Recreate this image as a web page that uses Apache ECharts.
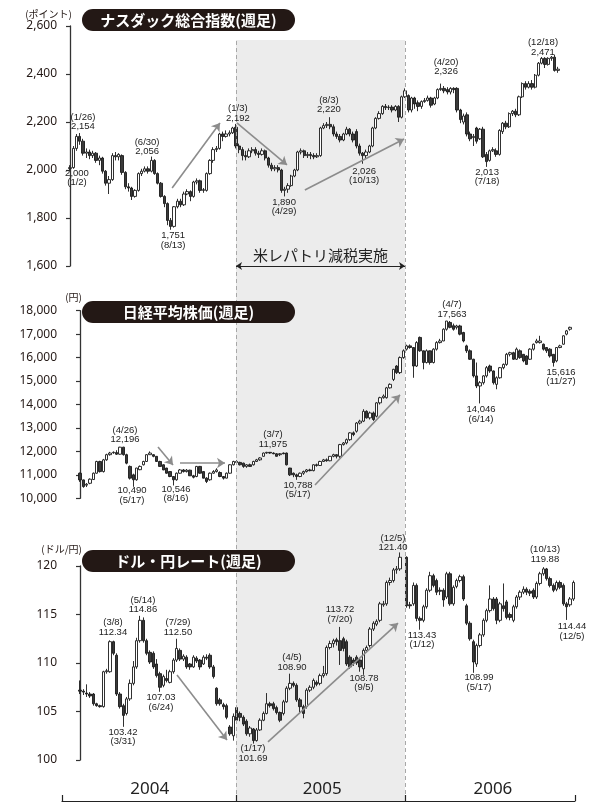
<!DOCTYPE html>
<html><head><meta charset="utf-8">
<script src="https://cdn.jsdelivr.net/npm/echarts@6/dist/echarts.min.js"></script>
<style>html,body{margin:0;padding:0;background:#fff}#c{width:600px;height:812px}</style>
</head><body><div id="c"></div>
<script>
// ---------- data ----------
const years = ['2004', '2005', '2006'];
const titles = ['ナスダック総合指数(週足)', '日経平均株価(週足)', 'ドル・円レート(週足)'];
const units = ['(ポイント)', '(円)', '(ドル/円)'];
const bandLabel = '米レパトリ減税実施';

// weekly candles [open, close, low, high]
const nasdaqOHLC = [
[2006,2010,2000,2020],[2010,2090,2005,2100],[2090,2140,2080,2150],[2140,2120,2105,2154],[2120,2070,2060,2130],
[2070,2075,2050,2090],[2075,2060,2045,2085],[2060,2070,2050,2080],[2070,2040,2030,2075],[2040,2050,2020,2060],
[2050,1995,1985,2055],[1995,1945,1935,2000],[1945,1960,1900,1975],[1960,2060,1955,2070],[2060,2055,2040,2075],
[2055,2065,2040,2070],[2060,1990,1980,2065],[1990,1930,1920,1995],[1930,1925,1910,1945],[1925,1890,1875,1930],
[1890,1915,1885,1920],[1915,1985,1910,1990],[1985,1995,1975,2005],[1995,2005,1990,2015],[2005,1995,1985,2015],
[1995,2040,1990,2056],[2040,1985,1980,2045],[1985,1945,1940,1990],[1945,1890,1885,1950],[1890,1860,1845,1895],
[1860,1790,1770,1865],[1790,1765,1751,1800],[1765,1847,1760,1850],[1847,1870,1840,1880],[1870,1855,1845,1880],
[1855,1900,1850,1910],[1900,1910,1895,1920],[1910,1890,1870,1915],[1890,1950,1885,1955],[1950,1955,1940,1965],
[1955,1915,1905,1960],[1915,1918,1905,1925],[1915,1985,1910,1990],[1985,2040,1980,2045],[2040,2085,2030,2095],
[2085,2090,2075,2100],[2090,2150,2085,2155],[2150,2140,2120,2160],[2140,2150,2135,2165],[2150,2155,2140,2165],
[2155,2175,2150,2180],[2178,2100,2090,2192],[2100,2085,2070,2110],[2085,2060,2040,2095],[2060,2055,2040,2080],
[2055,2080,2050,2090],[2080,2085,2070,2095],[2085,2070,2060,2095],[2070,2065,2050,2080],[2065,2080,2060,2090],
[2080,2050,2040,2085],[2050,2020,2010,2055],[2020,2005,1995,2030],[2005,2010,1995,2020],[2010,2000,1990,2020],
[2000,1915,1905,2005],[1915,1920,1890,1930],[1920,1935,1905,1945],[1935,1975,1930,1980],[1975,2000,1970,2005],
[2000,2075,1995,2080],[2075,2080,2065,2090],[2080,2060,2050,2085],[2060,2065,2050,2075],[2065,2060,2045,2075],
[2060,2055,2045,2070],[2055,2060,2050,2070],[2060,2175,2055,2180],[2175,2185,2170,2195],[2185,2190,2175,2200],
[2190,2180,2170,2220],[2180,2150,2140,2190],[2150,2140,2130,2160],[2140,2125,2115,2150],[2125,2150,2120,2155],
[2150,2170,2145,2180],[2170,2150,2140,2175],[2150,2125,2115,2160],[2160,2100,2090,2170],[2100,2070,2060,2110],
[2070,2060,2026,2075],[2060,2075,2050,2085],[2075,2100,2070,2105],[2100,2175,2095,2180],[2175,2215,2170,2220],
[2215,2235,2210,2245],[2235,2265,2230,2270],[2265,2260,2250,2275],[2260,2262,2250,2270],[2262,2250,2240,2270],
[2250,2265,2245,2270],[2265,2220,2200,2270],[2220,2305,2215,2310],[2305,2330,2300,2340],[2310,2250,2240,2315],
[2250,2300,2240,2305],[2300,2275,2255,2305],[2280,2265,2245,2290],[2265,2285,2255,2290],[2285,2290,2280,2300],
[2290,2300,2285,2310],[2300,2270,2260,2305],[2275,2300,2270,2305],[2300,2335,2295,2340],[2335,2340,2330,2360],
[2340,2330,2320,2350],[2335,2325,2315,2345],[2325,2340,2315,2345],[2340,2335,2320,2345],[2340,2250,2240,2345],
[2250,2210,2195,2255],[2200,2225,2190,2235],[2230,2150,2140,2240],[2150,2130,2120,2160],[2135,2140,2100,2150],
[2175,2120,2110,2180],[2130,2170,2125,2175],[2170,2055,2050,2180],[2065,2035,2013,2075],[2040,2080,2035,2085],
[2080,2085,2075,2095],[2080,2065,2055,2090],[2065,2165,2060,2170],[2160,2195,2150,2200],[2195,2180,2170,2205],
[2180,2235,2175,2240],[2235,2245,2225,2250],[2245,2230,2220,2255],[2230,2305,2225,2310],[2305,2360,2300,2365],
[2360,2345,2335,2370],[2345,2360,2340,2370],[2360,2345,2335,2375],[2345,2395,2340,2400],[2395,2445,2390,2450],
[2445,2465,2440,2471],[2465,2440,2425,2470],[2440,2465,2435,2470],[2465,2470,2455,2475],[2470,2415,2410,2480],
[2415,2420,2405,2430]
];

const nikkeiOHLC = [
[11070,10785,10700,11100],[10785,10500,10450,10800],[10560,10600,10480,10650],[10640,10815,10600,10850],[10800,11070,10780,11100],
[11070,11570,11050,11600],[11570,11140,11100,11600],[11140,11640,11100,11680],[11640,11860,11600,11900],[11860,11930,11820,11980],
[11940,11960,11900,12000],[11950,11880,11850,12050],[11880,12180,11860,12196],[12180,11860,11820,12196],[11860,11500,11450,11900],
[11360,10860,10800,11400],[11000,10790,10490,11050],[10790,11290,10750,11300],[11220,11360,11200,11400],[11430,11570,11400,11600],
[11570,11860,11550,11880],[11860,11930,11850,12000],[11860,11790,11750,11880],[11790,11570,11550,11800],[11570,11360,11350,11600],
[11430,11210,11200,11450],[11290,11070,11050,11300],[11140,10930,10900,11150],[10930,10790,10546,10950],[10790,11070,10750,11100],
[11070,11210,11050,11250],[11210,11140,11100,11250],[11140,11200,11100,11250],[11200,10960,10950,11220],[10960,10900,10850,11000],
[10930,11360,10900,11380],[11360,11070,11050,11380],[11140,10860,10850,11150],[10860,10720,10650,10900],[10790,11070,10750,11100],
[11070,11140,11050,11200],[11140,11210,11100,11280],[11100,10930,10900,11150],[10930,10860,10800,10950],[10860,11070,10850,11100],
[11070,11430,11050,11450],[11430,11570,11400,11600],[11570,11530,11480,11620],[11530,11430,11400,11560],[11500,11360,11300,11520],
[11360,11430,11300,11460],[11430,11360,11350,11480],[11430,11570,11400,11600],[11570,11640,11550,11680],[11640,11720,11600,11750],
[11790,11930,11780,11950],[11930,11960,11900,11980],[11960,11930,11900,11975],[11930,11900,11880,11960],[11900,11790,11780,11930],
[11860,11900,11800,11930],[11930,11900,11880,11950],[11930,11430,11400,11950],[11290,11000,10950,11300],[11070,11000,10900,11100],
[11000,10930,10788,11050],[10930,11070,10900,11100],[11070,11140,11000,11180],[11140,11210,11100,11250],[11210,11180,11150,11260],
[11180,11430,11150,11450],[11430,11400,11350,11480],[11400,11570,11380,11600],[11570,11640,11550,11680],[11640,11600,11560,11700],
[11600,11790,11580,11800],[11790,11860,11750,11900],[11860,11790,11700,11880],[11790,12290,11720,12320],[12290,12360,12250,12400],
[12360,12500,12300,12550],[12500,12790,12450,12820],[12790,12720,12650,12850],[12860,13210,12800,13250],[13210,13290,13150,13350],
[13290,13710,13250,13800],[13710,13430,13400,13750],[13430,13640,13360,13700],[13640,13360,13300,13700],[13500,14070,13450,14100],
[14070,14290,14000,14330],[14290,14360,14250,14430],[14290,14710,14250,14750],[14710,14860,14680,14900],[15070,15500,15000,15520],
[15640,15360,15300,15680],[15360,16000,15300,16050],[16000,16290,15950,16350],[16360,16500,16300,16550],[16500,16430,16380,16560],
[16430,15640,15140,16450],[15640,16640,15600,16700],[16860,16290,16250,16900],[16290,15790,15500,16300],[15790,16290,15750,16350],
[16290,15790,15700,16300],[15790,16360,15750,16400],[16360,16640,16300,16700],[16640,16710,16600,16800],[16710,17210,16700,17250],
[17210,17560,17150,17563],[17500,17290,17250,17560],[17360,17210,17150,17450],[17290,17350,17200,17400],[17350,17000,16950,17400],
[17070,16710,16650,17100],[16500,16290,16200,16550],[16290,15930,15900,16350],[15930,15220,15150,15950],[15220,14790,14700,15790],
[14790,14930,14046,15000],[14930,15220,14850,15250],[15220,15570,15150,15640],[15640,15430,15350,15700],[15430,14930,14850,15450],
[14860,15140,14650,15200],[15140,15570,15100,15600],[15570,15710,15500,15750],[15710,16140,15650,16200],[16140,16210,16050,16250],
[16210,15930,15900,16250],[15930,16360,15900,16430],[16290,16000,15950,16350],[16140,15860,15800,16150],[16070,15710,15700,16100],
[15930,16360,15900,16400],[16360,16570,16300,16600],[16640,16710,16600,16800],[16640,16710,16600,16930],[16570,16360,16300,16600],
[16430,16290,16200,16450],[16360,16070,16000,16400],[16140,15790,15616,16150],[15860,16430,15800,16450],[16430,16500,16400,16550],
[16570,16930,16550,16950],[17000,17140,16950,17180],[17210,17290,17150,17320]
];

const usdOHLC = [
[107.2,107.1,106.8,108.2],[107.1,107.0,106.7,107.3],[106.9,106.8,106.5,107.8],[106.8,106.6,106.4,107.0],[106.8,105.8,105.6,106.9],
[105.8,105.6,105.5,105.9],[105.6,105.5,105.4,105.7],[105.5,109.1,105.4,109.2],[109.1,109.2,108.9,109.4],[109.1,112.2,109.0,112.34],
[112.2,111.0,110.8,112.3],[110.8,106.8,106.6,111.0],[106.8,105.5,105.3,107.0],[105.6,104.6,103.42,105.8],[104.8,106.3,104.6,106.5],
[106.3,107.9,106.1,108.3],[107.9,109.6,107.7,110.2],[109.6,112.3,109.4,112.6],[112.3,114.4,112.1,114.86],[114.4,112.3,112.1,114.7],
[112.3,111.0,110.8,112.5],[111.1,110.1,109.9,111.3],[111.0,109.6,109.4,111.2],[109.9,108.7,108.5,110.4],[108.9,107.5,107.03,109.1],
[107.7,108.6,107.5,108.8],[108.4,108.2,108.0,109.3],[108.0,109.1,107.9,109.3],[109.1,110.3,108.9,110.5],[110.3,111.5,110.1,112.5],
[111.3,110.4,110.2,111.5],[110.4,110.7,110.2,110.9],[110.6,109.6,109.4,110.8],[109.9,109.6,109.3,110.0],[109.6,110.6,109.5,110.8],
[110.5,110.2,110.0,110.7],[110.3,109.6,109.3,110.4],[109.9,110.6,109.8,110.8],[110.6,110.5,110.3,110.9],[110.8,109.6,109.4,111.0],
[109.6,108.6,108.4,109.8],[107.4,105.8,105.6,107.5],[106.2,105.8,105.6,106.4],[105.7,105.5,105.2,105.9],[105.6,104.4,104.2,105.8],
[103.4,102.7,102.5,103.6],[102.5,104.5,102.0,104.8],[105.4,104.1,103.9,105.6],[104.8,104.4,104.0,105.0],[104.4,103.7,103.5,104.6],
[104.0,102.7,102.5,104.2],[102.7,103.3,102.4,103.5],[103.2,102.0,101.69,103.3],[102.0,103.1,101.9,103.3],[103.1,104.1,103.0,104.3],
[104.1,104.8,104.0,105.0],[104.8,105.8,104.7,106.9],[105.8,105.6,105.4,106.0],[105.8,105.3,105.1,106.0],[105.4,104.9,104.7,105.6],
[104.9,104.1,103.9,105.0],[104.8,106.0,104.6,106.2],[106.0,107.4,105.9,107.6],[107.4,107.9,107.2,108.9],[107.9,107.7,107.5,108.1],
[107.7,106.2,106.0,107.9],[106.2,105.5,104.9,106.4],[105.5,104.8,104.3,105.7],[105.5,107.2,105.3,107.4],[107.2,107.5,107.0,107.7],
[107.5,108.2,107.3,108.4],[108.0,107.8,107.6,108.2],[107.9,108.7,107.7,108.9],[108.7,108.9,108.5,109.7],[108.9,111.6,108.7,111.8],
[111.6,112.0,111.4,112.3],[112.0,112.3,111.6,112.5],[112.4,112.2,111.8,112.6],[112.3,111.3,109.8,113.72],[112.5,111.5,111.2,112.7],
[112.2,109.9,109.7,112.4],[110.6,109.6,109.4,110.8],[110.3,110.0,109.7,110.5],[110.6,110.0,109.8,110.8],[110.3,109.6,109.1,110.5],
[109.4,111.3,108.78,111.5],[111.3,111.6,111.1,111.8],[111.8,113.5,111.6,113.7],[113.5,114.1,113.3,114.3],[114.0,114.3,113.8,114.5],
[114.4,116.1,114.2,116.3],[116.0,116.1,115.8,116.4],[116.1,118.3,115.9,118.5],[118.3,118.5,118.0,118.8],[118.5,119.6,118.3,119.8],
[119.6,119.7,119.2,120.0],[119.7,120.9,119.5,121.40],[121.1,120.8,120.5,121.3],[120.9,115.9,115.7,121.0],[116.0,115.9,115.6,116.3],
[116.1,118.0,115.9,118.3],[118.0,114.6,114.3,118.2],[114.6,114.4,113.43,114.8],[114.4,115.8,114.2,116.0],[115.8,117.5,115.6,117.7],
[117.5,119.0,117.3,119.4],[119.0,118.0,117.8,119.2],[118.5,117.3,117.0,118.7],[117.5,117.4,117.0,117.8],[117.5,116.5,115.8,117.7],
[116.8,119.2,116.6,119.4],[119.2,116.1,115.9,119.4],[116.1,117.8,115.9,118.0],[117.9,118.5,117.7,118.7],[118.5,118.9,118.3,119.1],
[118.9,116.6,116.4,119.1],[115.9,114.1,113.9,116.1],[114.1,112.5,112.3,114.3],[112.2,110.1,108.99,112.4],[109.9,111.8,109.6,112.0],
[111.8,112.9,111.6,113.1],[112.9,114.4,112.7,114.6],[114.4,115.4,114.2,115.6],[115.4,116.6,115.2,118.0],[116.6,115.6,115.4,116.8],
[116.6,114.4,114.0,116.8],[114.4,116.1,114.2,116.3],[115.9,115.6,115.3,118.2],[116.3,114.7,114.5,116.5],[115.0,114.7,114.4,115.2],
[114.4,115.8,114.2,116.0],[115.8,116.8,115.6,117.0],[116.8,117.3,116.5,117.5],[117.3,117.6,117.1,117.9],[117.6,117.3,117.0,117.8],
[117.4,117.2,116.9,117.6],[117.5,116.8,116.6,117.7],[116.8,118.2,116.6,118.4],[118.2,119.2,118.0,119.4],[119.2,119.7,119.0,119.88],
[119.7,118.7,118.5,119.8],[118.7,118.0,117.8,118.9],[118.0,117.5,117.3,118.2],[117.6,118.3,117.4,118.5],[118.3,117.8,117.6,118.5],
[118.0,116.1,115.9,118.2],[116.1,115.8,114.44,116.3],[116.0,116.6,115.8,116.8],[116.6,118.3,116.4,118.5]
];

// annotations: [week index, value, text]
const nasdaqNotes = [
[4.0,2200,'(1/26)\n2,154'],[2.15,1967,'2,000\n(1/2)'],[23.7,2096,'(6/30)\n2,056'],[31.7,1708,'1,751\n(8/13)'],
[51.6,2237,'(1/3)\n2,192'],[65.8,1846,'1,890\n(4/29)'],[79.6,2271,'(8/3)\n2,220'],[90.4,1975,'2,026\n(10/13)'],
[115.6,2429,'(4/20)\n2,326'],[128.2,1971,'2,013\n(7/18)'],[145.4,2512,'(12/18)\n2,471']
];
const nikkeiNotes = [
[13.5,12699,'(4/26)\n12,196'],[15.6,10119,'10,490\n(5/17)'],[28.8,10183,'10,546\n(8/16)'],[57.9,12507,'(3/7)\n11,975'],
[65.4,10354,'10,788\n(5/17)'],[111.6,18051,'(4/7)\n17,563'],[120.3,13574,'14,046\n(6/14)'],[144.3,15173,'15,616\n(11/27)']
];
const usdNotes = [
[9.9,113.66,'(3/8)\n112.34'],[12.9,102.37,'103.42\n(3/31)'],[18.9,115.98,'(5/14)\n114.86'],[24.3,105.93,'107.03\n(6/24)'],
[29.4,113.66,'(7/29)\n112.50'],[51.9,100.67,'(1/17)\n101.69'],[63.6,110.05,'(4/5)\n108.90'],[78.0,115.0,'113.72\n(7/20)'],
[85.2,107.94,'108.78\n(9/5)'],[93.9,122.37,'(12/5)\n121.40'],[102.6,112.37,'113.43\n(1/12)'],[119.7,107.99,'108.99\n(5/17)'],
[139.5,121.19,'(10/13)\n119.88'],[147.6,113.25,'114.44\n(12/5)']
];
// trend arrows: [x1, y1, x2, y2]
const nasdaqArrows = [[31.4,1925,46.1,2196],[51.3,2196,66.7,2021],[72.2,1917,102.7,2129]];
const nikkeiArrows = [[23.4,12188,27.9,11420],[30,11505,43.5,11505],[70.5,10570,96,14410]];
const usdArrows = [[29.1,108.76,44.1,102.06],[56.4,101.86,95.4,114.12]];

// ---------- layout ----------
const L = 62, W = 513;
const NX = {min: -2.459, max: 155.24};
const KX = {min: -5.4, max: 148.5};
const YR = {min: -0.0296, max: 3.0059};
const panels = [
  {top: 26, height: 240, min: 1600, max: 2600, interval: 200, nameGap: 7, x: NX},
  {top: 310.7, height: 187.6, min: 10000, max: 18000, interval: 1000, nameGap: 8, x: KX},
  {top: 566, height: 194, min: 100, max: 120, interval: 5, nameGap: 12, x: KX}
];
const INK = '#231815';
const fmt = v => (v >= 1000 ? v.toLocaleString('en-US') : String(v));

const chart = echarts.init(document.getElementById('c'));
const grids = panels.map(p => ({left: L, width: W, top: p.top, height: p.height}));
grids.push({left: L, width: W, top: 40, bottom: 11});

const xAxes = panels.map((p, i) => ({type: 'value', gridIndex: i, min: p.x.min, max: p.x.max, show: false}));
xAxes.push({
  type: 'value', gridIndex: 3, min: YR.min, max: YR.max, z: 8,
  splitLine: {show: false},
  axisLine: {show: true, lineStyle: {color: '#222', width: 1.2}},
  axisTick: {show: true, inside: true, length: 6, lineStyle: {color: '#222', width: 1.2}, customValues: [YR.min, 1, 2, YR.max]},
  axisLabel: {show: true, inside: true, margin: 3, customValues: [0.49, 1.51, 2.52],
    formatter: v => years[Math.floor(v)], fontSize: 17, color: '#222', fontFamily: 'Noto Sans'}
});
const yAxes = panels.map((p, i) => ({
  type: 'value', gridIndex: i, min: p.min, max: p.max, interval: p.interval,
  name: units[i], nameLocation: 'end', nameGap: p.nameGap,
  nameTextStyle: {align: 'right', fontSize: 10, color: INK, fontFamily: 'Noto Sans CJK JP', padding: [0, -2, 0, 0]},
  splitLine: {show: false},
  axisLine: {show: true, lineStyle: {color: '#333', width: 1.3}},
  axisTick: {show: true, length: 4, lineStyle: {color: '#333', width: 1.2}},
  axisLabel: {margin: 5, fontSize: 12, color: INK, fontFamily: 'Noto Sans', formatter: fmt}
}));
yAxes.push({type: 'value', gridIndex: 3, min: 0, max: 1, show: false});

const candleStyle = {color: '#ffffff', color0: '#3a3a3a', borderColor: '#1a1a1a', borderColor0: '#1a1a1a', borderWidth: 0.9};
function candles(ohlc, gi, arrows) {
  return {
    type: 'candlestick', xAxisIndex: gi, yAxisIndex: gi, z: 3,
    data: ohlc.map((d, i) => [i].concat(d)),
    barWidth: 2.8, itemStyle: candleStyle, animation: false,
    markLine: {
      silent: true, animation: false, symbol: ['none', 'arrow'], symbolSize: 8,
      lineStyle: {color: '#8c8c8c', width: 1.6, type: 'solid'}, label: {show: false},
      data: arrows.map(a => [{coord: [a[0], a[1]]}, {coord: [a[2], a[3]]}])
    }
  };
}

const option = {
  animation: false,
  grid: grids, xAxis: xAxes, yAxis: yAxes,
  series: [
    {
      type: 'line', xAxisIndex: 3, yAxisIndex: 3, data: [], z: 0, silent: true,
      markArea: {silent: true, itemStyle: {color: '#ececec'}, data: [[{xAxis: 1, yAxis: 0}, {xAxis: 2, yAxis: 1}]]},
      markLine: {silent: true, symbol: 'none', label: {show: false},
        lineStyle: {color: '#a8a8a8', type: [4, 3], width: 1}, data: [{xAxis: 1}, {xAxis: 2}]}
    },
    {
      type: 'line', xAxisIndex: 3, yAxisIndex: 3, data: [], z: 1, silent: true,
      markLine: {silent: true, symbol: ['arrow', 'arrow'], symbolSize: 6,
        lineStyle: {color: '#222', type: 'solid', width: 1},
        label: {show: true, position: 'middle', distance: 3, formatter: bandLabel, fontSize: 15, color: '#222', fontFamily: 'Noto Sans CJK JP'},
        data: [[{coord: [1, 0.703]}, {coord: [2, 0.703]}]]}
    },
    candles(nasdaqOHLC, 0, nasdaqArrows),
    candles(nikkeiOHLC, 1, nikkeiArrows),
    candles(usdOHLC, 2, usdArrows)
  ]
};
chart.setOption(option);

// titles & value notes (notes positioned through the axes' scales)
const graphics = [];
const pillY = [9, 301, 550];
pillY.forEach((y, i) => {
  graphics.push({type: 'rect', z: 10, shape: {x: 82, y: y, width: 213, height: 22, r: 11}, style: {fill: INK}});
  graphics.push({type: 'text', z: 11, style: {text: titles[i], x: 188.5, y: y + 11, align: 'center', verticalAlign: 'middle',
    fill: '#fff', fontSize: 15, fontWeight: 'bold', fontFamily: 'Noto Sans CJK JP'}});
});
[nasdaqNotes, nikkeiNotes, usdNotes].forEach((notes, gi) => {
  notes.forEach(n => {
    const p = chart.convertToPixel({gridIndex: gi}, [n[0], n[1]]);
    graphics.push({type: 'text', z: 12, style: {text: n[2], x: p[0], y: p[1], align: 'center', verticalAlign: 'middle',
      fill: '#222', fontSize: 9.5, lineHeight: 9.6, fontFamily: 'Liberation Sans Narrow, Liberation Sans, sans-serif'}});
  });
});
chart.setOption({graphic: graphics});
</script>
</body></html>
